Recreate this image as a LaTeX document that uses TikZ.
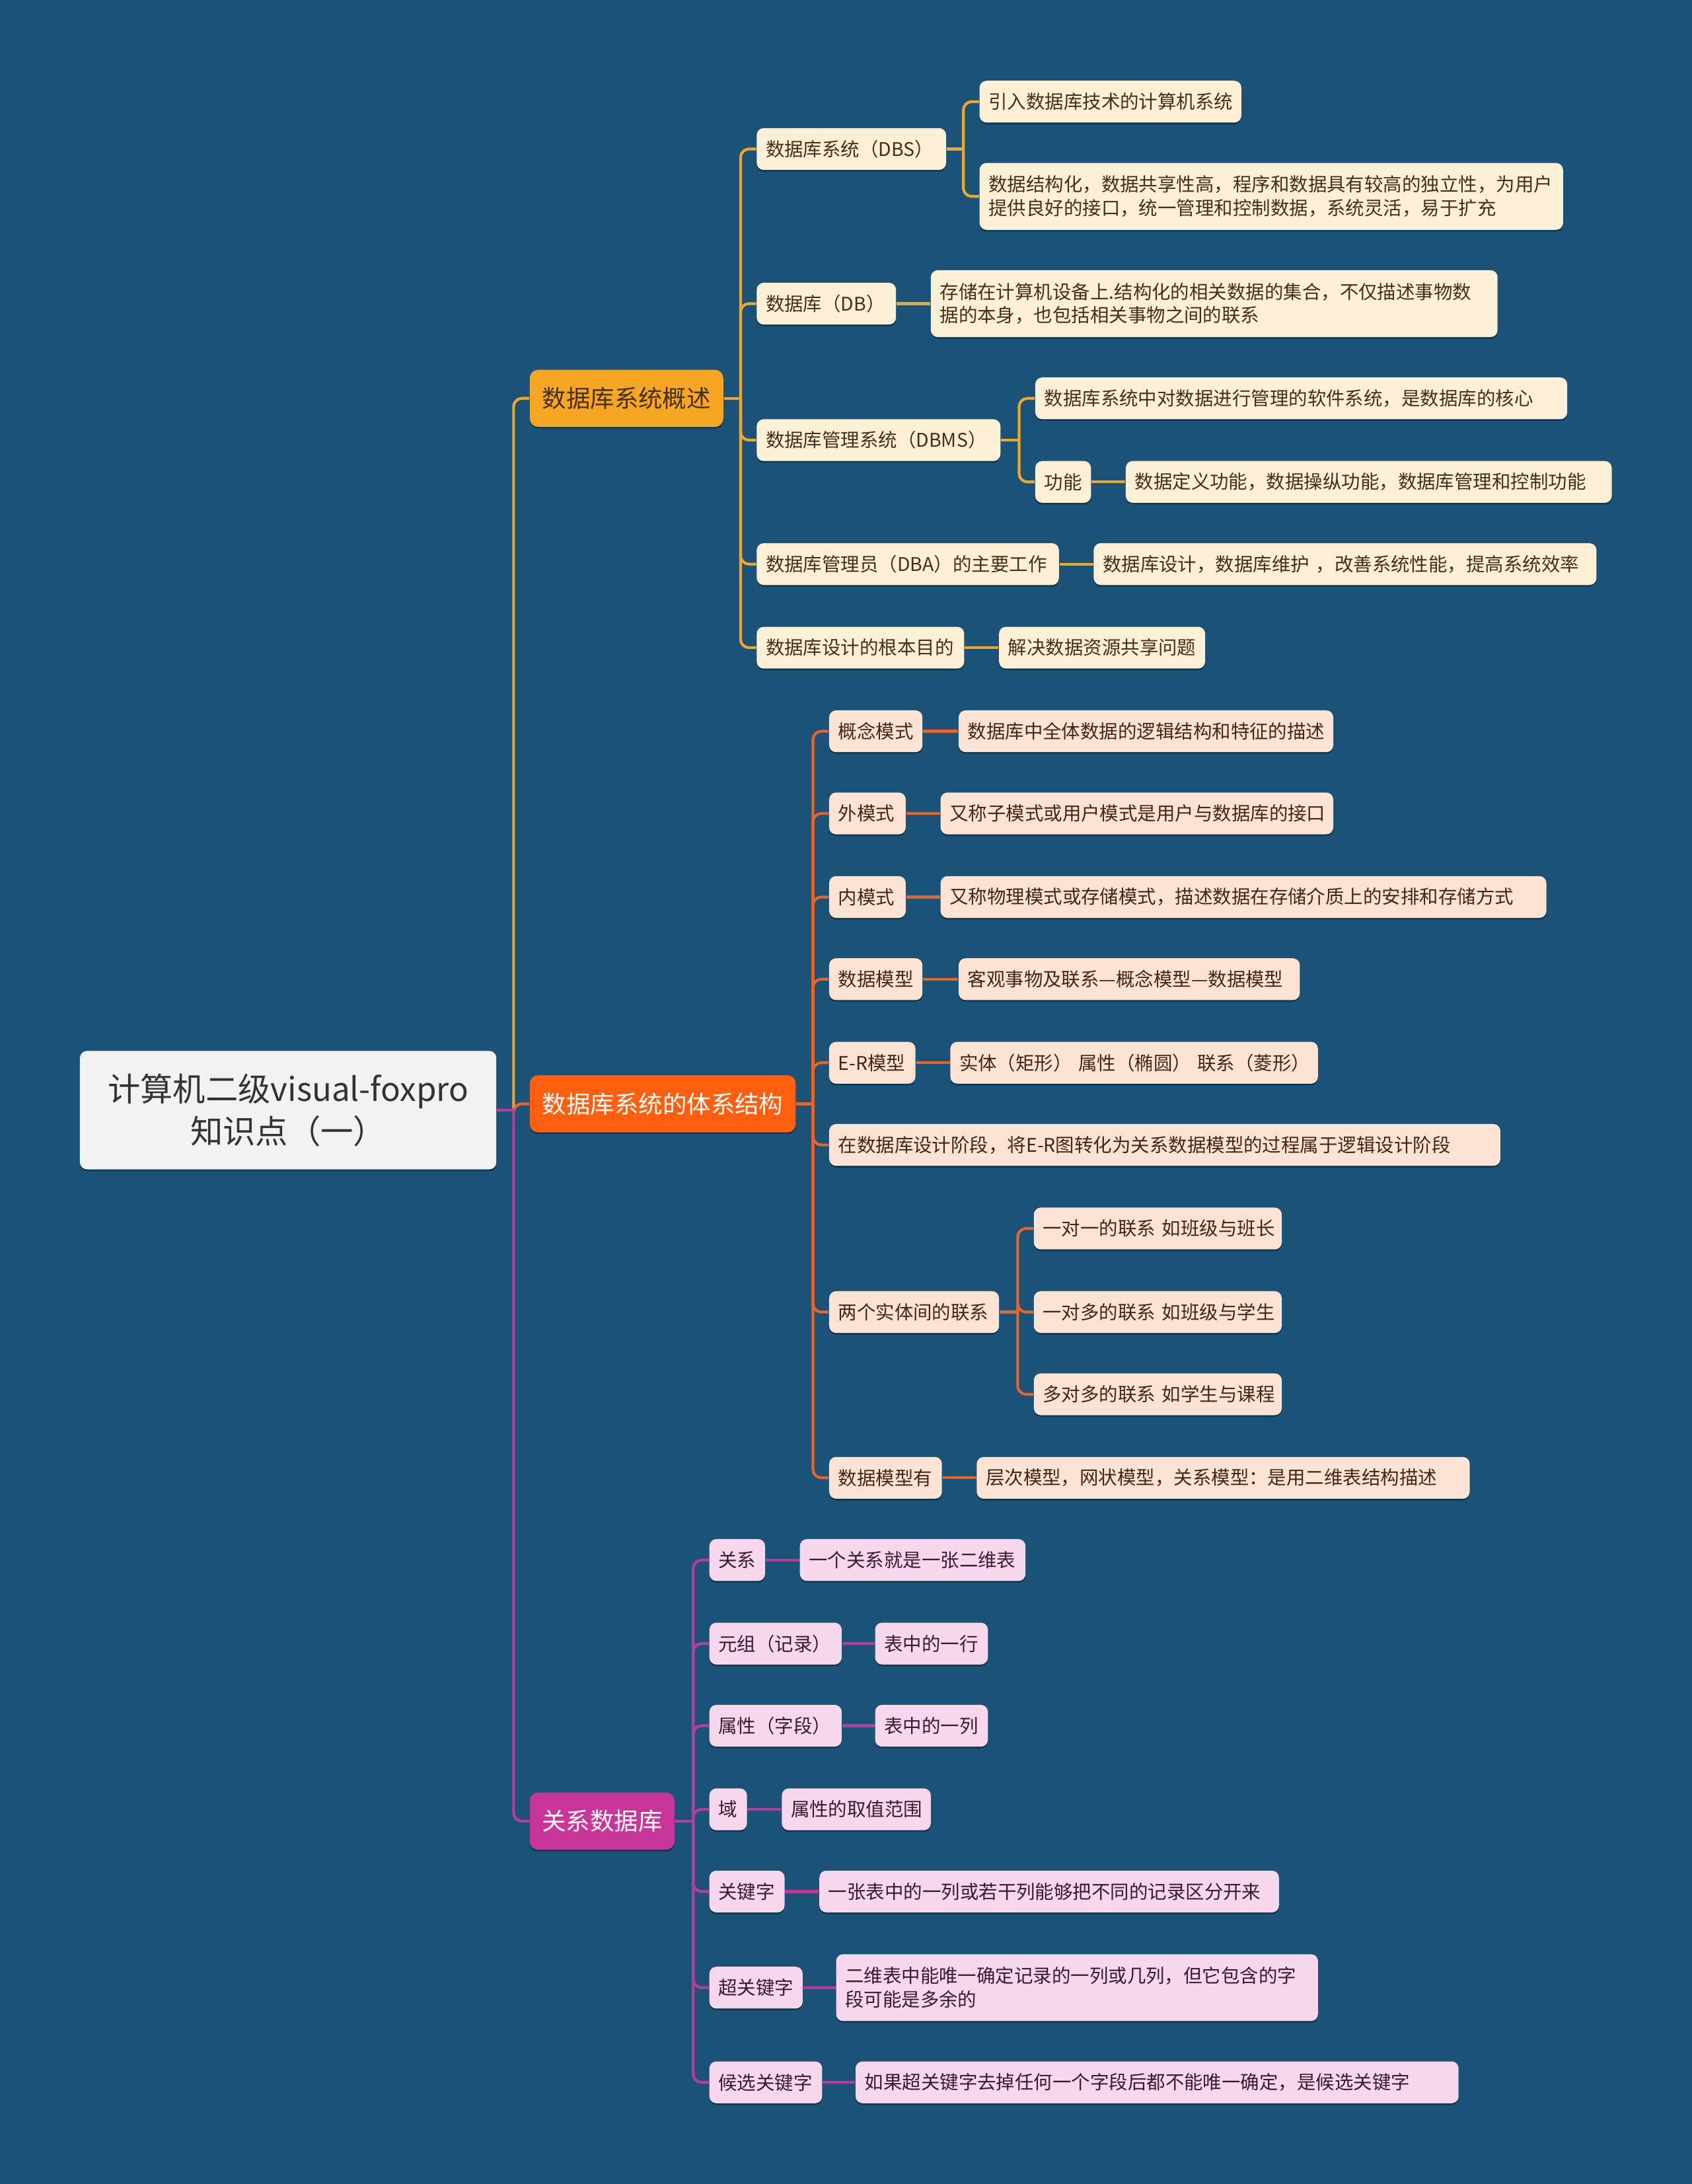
\documentclass[tikz,border=0pt]{standalone}
\usepackage{fontspec}
\setmainfont{Noto Sans CJK SC}
\usetikzlibrary{shadows}
\definecolor{bg}{RGB}{26,83,119}
\definecolor{rootfill}{RGB}{242,242,242}
\definecolor{roottext}{RGB}{51,51,51}
\definecolor{bAfill}{RGB}{246,166,35}
\definecolor{bAline}{RGB}{240,166,40}
\definecolor{nAfill}{RGB}{253,240,214}
\definecolor{nAtext}{RGB}{70,48,20}
\definecolor{bBfill}{RGB}{255,95,14}
\definecolor{bBline}{RGB}{232,100,40}
\definecolor{nBfill}{RGB}{253,227,212}
\definecolor{nBtext}{RGB}{68,38,22}
\definecolor{bCfill}{RGB}{200,54,154}
\definecolor{bCline}{RGB}{190,58,154}
\definecolor{nCfill}{RGB}{246,215,236}
\definecolor{nCtext}{RGB}{60,24,50}
\begin{document}
\begin{tikzpicture}[x=0.5pt,y=-0.5pt,
  shad/.style={drop shadow={shadow xshift=0pt,shadow yshift=-0.6pt,opacity=0.35,fill=black}},
  bw/.code={\pgfmathsetlengthmacro\bwtmp{#1-6.5pt}\edef\bwnext{\noexpand\tikzset{text width=\bwtmp}}\bwnext},
  box/.style={shad,rounded corners=2.5pt,inner xsep=3.25pt,inner ysep=1pt,anchor=west,
    font=\fontsize{6.75pt}{8.5pt}\selectfont,
    align=left,minimum height=15pt},
  nA/.style={box,fill=nAfill,text=nAtext},
  nB/.style={box,fill=nBfill,text=nBtext},
  nC/.style={box,fill=nCfill,text=nCtext},
  main/.style={shad,rounded corners=3pt,inner xsep=4pt,anchor=west,
    font=\fontsize{8.65pt}{10pt}\selectfont,minimum height=20.5pt},
  eA/.style={draw=bAline,line width=1pt},
  eB/.style={draw=bBline,line width=1pt},
  eC/.style={draw=bCline,line width=1pt},
  rc/.style={rounded corners=3pt}
]
\useasboundingbox[fill=bg] (0,0) rectangle (1215,1568);

% root
\node[shad,rounded corners=2.5pt,fill=rootfill,text=roottext,align=center,anchor=west,
  minimum width=149.5pt,minimum height=42.5pt,font=\fontsize{11.7pt}{15pt}\selectfont]
  (root) at (57,797) {计算机二级visual-foxpro\\知识点（一）};

% main branches
\node[main,fill=bAfill,text=nAtext,minimum width=69.5pt] (A) at (380,286) {数据库系统概述};
\node[main,fill=bBfill,text=white,minimum width=95.5pt] (B) at (380,792.5) {数据库系统的体系结构};
\node[main,fill=bCfill,text=white,minimum width=52pt] (C) at (380,1307.5) {关系数据库};

% branch A
\node[nA,bw=68pt] (a1) at (543,107) {数据库系统（DBS）};
\node[nA,bw=94pt] (a1x) at (703,73) {引入数据库技术的计算机系统};
\node[nA,bw=209.5pt,minimum height=24pt] (a1y) at (703,141) {数据结构化，数据共享性高，程序和数据具有较高的独立性，为用户\\提供良好的接口，统一管理和控制数据，系统灵活，易于扩充};
\node[nA,bw=50pt] (a2) at (543,218) {数据库（DB）};
\node[nA,bw=203.5pt,minimum height=24pt] (a2x) at (668,218) {存储在计算机设备上.结构化的相关数据的集合，不仅描述事物数\\据的本身，也包括相关事物之间的联系};
\node[nA,bw=87.5pt] (a3) at (543,316) {数据库管理系统（DBMS）};
\node[nA,bw=191pt] (a3x) at (743,286) {数据库系统中对数据进行管理的软件系统，是数据库的核心};
\node[nA,bw=20pt] (a3y) at (743,346) {功能};
\node[nA,bw=174.5pt] (a3z) at (808,346) {数据定义功能，数据操纵功能，数据库管理和控制功能};
\node[nA,bw=108.5pt] (a4) at (543,405) {数据库管理员（DBA）的主要工作};
\node[nA,bw=180.5pt] (a4x) at (785,405) {数据库设计，数据库维护~，改善系统性能，提高系统效率};
\node[nA,bw=74.5pt] (a5) at (543,465) {数据库设计的根本目的};
\node[nA,bw=74pt] (a5x) at (717,465) {解决数据资源共享问题};

% branch B
\node[nB,bw=33.5pt] (b1) at (595,525) {概念模式};
\node[nB,bw=134.5pt] (b1x) at (688,525) {数据库中全体数据的逻辑结构和特征的描述};
\node[nB,bw=27.5pt] (b2) at (595,584) {外模式};
\node[nB,bw=141pt] (b2x) at (675,584) {又称子模式或用户模式是用户与数据库的接口};
\node[nB,bw=27.5pt] (b3) at (595,644) {内模式};
\node[nB,bw=217.5pt] (b3x) at (675,644) {又称物理模式或存储模式，描述数据在存储介质上的安排和存储方式};
\node[nB,bw=33.5pt] (b4) at (595,703) {数据模型};
\node[nB,bw=122.5pt] (b4x) at (688,703) {客观事物及联系—概念模型—数据模型};
\node[nB,bw=31pt] (b5) at (595,763) {\mbox{E-R模型}};
\node[nB,bw=132pt] (b5x) at (682,763) {实体（矩形）~属性（椭圆）~联系（菱形）};
\node[nB,bw=241pt] (b6) at (595,822) {在数据库设计阶段，将\mbox{E-R}图转化为关系数据模型的过程属于逻辑设计阶段};
\node[nB,bw=61pt] (b7) at (595,942) {两个实体间的联系};
\node[nB,bw=89pt] (b7a) at (742,882) {一对一的联系~如班级与班长};
\node[nB,bw=89pt] (b7b) at (742,942) {一对多的联系~如班级与学生};
\node[nB,bw=89pt] (b7c) at (742,1001) {多对多的联系~如学生与课程};
\node[nB,bw=40.5pt] (b8) at (595,1061) {数据模型有};
\node[nB,bw=177pt] (b8x) at (701,1061) {层次模型，网状模型，关系模型：是用二维表结构描述};

% branch C
\node[nC,bw=20pt] (c1) at (509,1120) {关系};
\node[nC,bw=81pt] (c1x) at (574,1120) {一个关系就是一张二维表};
\node[nC,bw=47.5pt] (c2) at (509,1180) {元组（记录）};
\node[nC,bw=40.5pt] (c2x) at (628,1180) {表中的一行};
\node[nC,bw=47.5pt] (c3) at (509,1239) {属性（字段）};
\node[nC,bw=40.5pt] (c3x) at (628,1239) {表中的一列};
\node[nC,bw=13.5pt] (c4) at (509,1299) {域};
\node[nC,bw=53.5pt] (c4x) at (561,1299) {属性的取值范围};
\node[nC,bw=27pt] (c5) at (509,1358) {关键字};
\node[nC,bw=165pt] (c5x) at (588,1358) {一张表中的一列或若干列能够把不同的记录区分开来};
\node[nC,bw=33.5pt] (c6) at (509,1427) {超关键字};
\node[nC,bw=173pt,minimum height=24pt] (c6x) at (600,1427) {二维表中能唯一确定记录的一列或几列，但它包含的字\\段可能是多余的};
\node[nC,bw=40.5pt] (c7) at (509,1495) {候选关键字};
\node[nC,bw=216.5pt] (c7x) at (614,1495) {如果超关键字去掉任何一个字段后都不能唯一确定，是候选关键字};

% root connectors
\draw[eA] (root.east) -- ++(12,0) coordinate (root-bus);
\draw[eA,rc] (root-bus) |- (A.west);
\draw[eB,rc] (root-bus) |- (B.west);
\draw[eC,rc] (root-bus) |- (C.west);
\draw[eC] (root.east) -- (root-bus);

% branch A connectors
\draw[eA] (A.east) -- ++(12,0) coordinate (A-bus);
\foreach \k in {a1,a2,a3,a4,a5} \draw[eA,rc] (A-bus) |- (\k.west);
\draw[eA] (a1.east) -- ++(12,0) coordinate (a1-bus);
\draw[eA,rc] (a1-bus) |- (a1x.west);
\draw[eA,rc] (a1-bus) |- (a1y.west);
\draw[eA] (a2.east) -- (a2x.west);
\draw[eA] (a3.east) -- ++(13,0) coordinate (a3-bus);
\draw[eA,rc] (a3-bus) |- (a3x.west);
\draw[eA,rc] (a3-bus) |- (a3y.west);
\draw[eA] (a3y.east) -- (a3z.west);
\draw[eA] (a4.east) -- (a4x.west);
\draw[eA] (a5.east) -- (a5x.west);

% branch B connectors
\draw[eB] (B.east) -- ++(12,0) coordinate (B-bus);
\foreach \k in {b1,b2,b3,b4,b5,b6,b7,b8} \draw[eB,rc] (B-bus) |- (\k.west);
\draw[eB] (b1.east) -- (b1x.west);
\draw[eB] (b2.east) -- (b2x.west);
\draw[eB] (b3.east) -- (b3x.west);
\draw[eB] (b4.east) -- (b4x.west);
\draw[eB] (b5.east) -- (b5x.west);
\draw[eB] (b7.east) -- ++(13,0) coordinate (b7-bus);
\foreach \k in {b7a,b7b,b7c} \draw[eB,rc] (b7-bus) |- (\k.west);
\draw[eB] (b8.east) -- (b8x.west);

% branch C connectors
\draw[eC] (C.east) -- ++(13,0) coordinate (C-bus);
\foreach \k in {c1,c2,c3,c4,c5,c6,c7} \draw[eC,rc] (C-bus) |- (\k.west);
\draw[eC] (c1.east) -- (c1x.west);
\draw[eC] (c2.east) -- (c2x.west);
\draw[eC] (c3.east) -- (c3x.west);
\draw[eC] (c4.east) -- (c4x.west);
\draw[eC] (c5.east) -- (c5x.west);
\draw[eC] (c6.east) -- (c6x.west);
\draw[eC] (c7.east) -- (c7x.west);
\end{tikzpicture}
\end{document}
